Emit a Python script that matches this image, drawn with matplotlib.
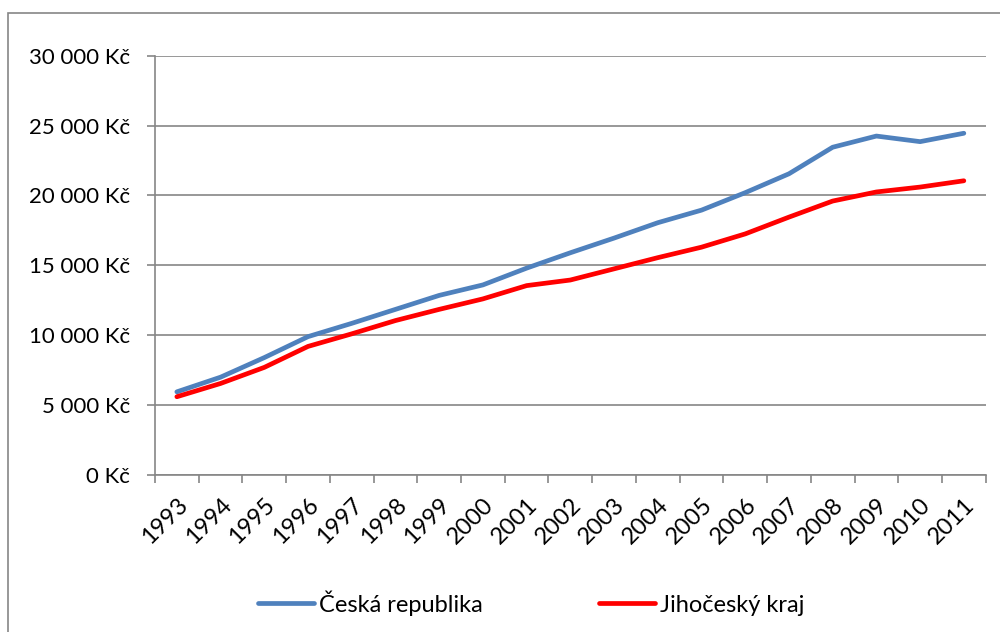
import matplotlib.pyplot as plt
from matplotlib.patches import Rectangle

years = ["1993", "1994", "1995", "1996", "1997", "1998", "1999", "2000", "2001", "2002",
         "2003", "2004", "2005", "2006", "2007", "2008", "2009", "2010", "2011"]
cr = [5950, 7000, 8400, 9900, 10850, 11850, 12850, 13600, 14800, 15900,
      16950, 18050, 18950, 20200, 21550, 23450, 24250, 23850, 24450]
jck = [5600, 6550, 7700, 9200, 10100, 11050, 11850, 12600, 13550, 13950,
       14750, 15550, 16300, 17250, 18450, 19600, 20250, 20600, 21050]
yticks = [0, 5000, 10000, 15000, 20000, 25000, 30000]
ylabels = ["0 Kč", "5 000 Kč", "10 000 Kč", "15 000 Kč", "20 000 Kč", "25 000 Kč", "30 000 Kč"]

plt.rcParams['font.family'] = ['Lato', 'DejaVu Sans']
grey = "#868686"

fig = plt.figure(figsize=(10, 6.32), dpi=100)
# chart frame, only left and top edges fall inside the picture
fig.patches.append(Rectangle((0.008, -0.05), 1.1, 0.029 + 1.0, transform=fig.transFigure,
                             fill=False, edgecolor=grey, linewidth=1.2))
ax = fig.add_axes([0.155, 0.2484, 0.8307, 0.6635])

x = list(range(len(years)))
ax.plot(x, cr, color="#4F81BD", linewidth=3.4, label="Česká republika", solid_capstyle="round")
ax.plot(x, jck, color="#FF0000", linewidth=3.4, label="Jihočeský kraj", solid_capstyle="round")

ax.set_xlim(-0.5, len(years) - 0.5)
ax.set_ylim(0, 30000)
ax.set_yticks(yticks)
ax.set_yticklabels(ylabels, fontsize=16)
ax.set_xticks(x)
ax.set_xticklabels(years, fontsize=17, rotation=45, ha="right", rotation_mode="anchor")
ax.set_xticks([i - 0.5 for i in range(len(years) + 1)], minor=True)
ax.tick_params(axis="x", which="major", length=0, pad=14)
ax.tick_params(axis="x", which="minor", length=6, color=grey, width=1.2)
ax.tick_params(axis="y", length=6, color=grey, width=1.2, pad=12)
ax.grid(axis="y", color=grey, linewidth=1.2)
ax.set_axisbelow(True)
for s in ["top", "right"]:
    ax.spines[s].set_visible(False)
for s in ["left", "bottom"]:
    ax.spines[s].set_color(grey)
    ax.spines[s].set_linewidth(1.2)

fig.legend(loc="center", bbox_to_anchor=(0.531, 0.046), ncol=2, frameon=False, fontsize=17,
           handlelength=2.4, handletextpad=0.2, columnspacing=4.9)

fig.savefig("out.png")
